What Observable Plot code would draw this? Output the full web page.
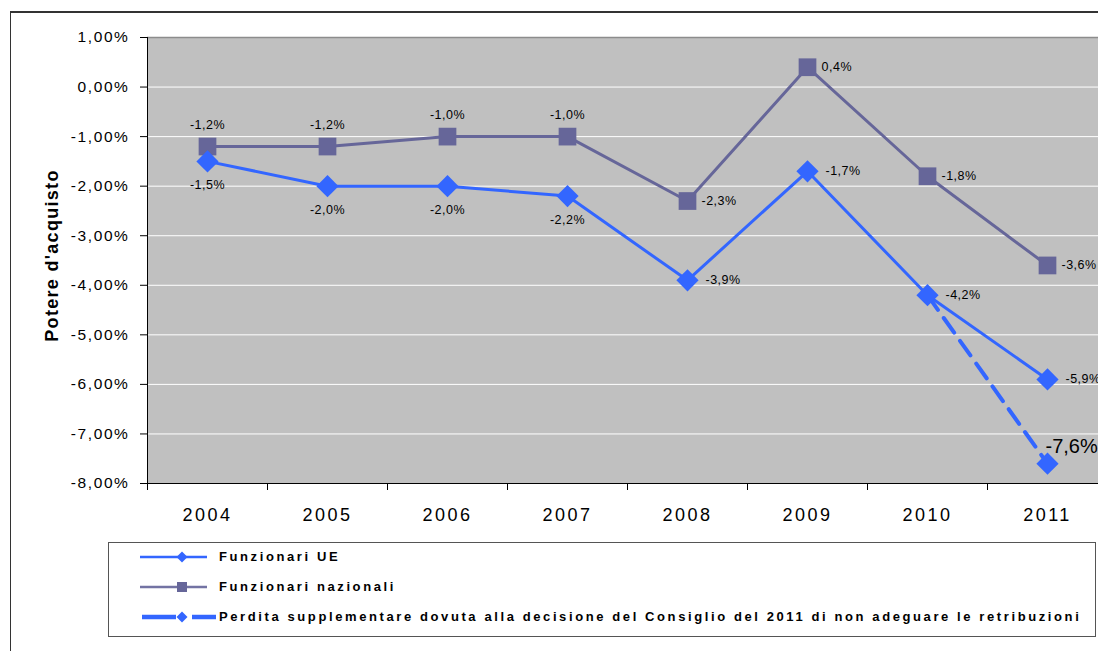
<!DOCTYPE html>
<html><head><meta charset="utf-8">
<script src="https://cdn.jsdelivr.net/npm/d3@7"></script>
<script src="https://cdn.jsdelivr.net/npm/@observablehq/plot@0.6"></script>
<style>
html,body{margin:0;padding:0;overflow:hidden;background:#fff;width:1098px;height:651px;}
#chart{position:absolute;left:0;top:0;}
#chart svg{max-width:none !important;}
g[aria-label="y-axis tick label"] text{letter-spacing:1.6px;}
g[aria-label="x-axis tick label"] text{letter-spacing:2.5px;}
.val text{letter-spacing:0.5px;}
.ytitle text{letter-spacing:1.3px;}
.frame-top{position:absolute;left:10px;top:11px;width:1100px;height:0;border-top:2px solid #333;}
.frame-left{position:absolute;left:10px;top:11px;width:0;height:700px;border-left:1px solid #333;}
#legend{position:absolute;left:108px;top:542px;width:986px;height:93px;border:1px solid #555;background:#fff;font-family:"Liberation Sans",Arial,sans-serif;font-weight:bold;font-size:13px;letter-spacing:2.6px;color:#000;}
.row{position:absolute;left:0;width:980px;height:16px;}
.row svg{position:absolute;left:31px;top:0;}
.row span{position:absolute;left:110px;top:0;line-height:16px;white-space:nowrap;}
</style></head>
<body>
<div class="frame-top"></div>
<div class="frame-left"></div>
<div id="chart"></div>
<div id="legend"></div>
<script>
const years = [2004, 2005, 2006, 2007, 2008, 2009, 2010, 2011];
const ueValues = [-1.5, -2.0, -2.0, -2.2, -3.9, -1.7, -4.2, -5.9];
const nazValues = [-1.2, -1.2, -1.0, -1.0, -2.3, 0.4, -1.8, -3.6];
const extraYears = [2010, 2011];
const extraValues = [-4.2, -7.6];
const yTicks = [1, 0, -1, -2, -3, -4, -5, -6, -7, -8];
const seriesNames = [
  "Funzionari UE",
  "Funzionari nazionali",
  "Perdita supplementare dovuta alla decisione del Consiglio del 2011 di non adeguare le retribuzioni"
];
const yTitle = "Potere d'acquisto";

const blue = "#3366ff", purple = "#666699";
const ue = years.map((year, i) => ({year, value: ueValues[i]}));
const naz = years.map((year, i) => ({year, value: nazValues[i]}));
const extra = extraYears.map((year, i) => ({year, value: extraValues[i]}));
const bounds = d3.range(years[0] - 0.5, years[years.length - 1] + 1, 1);
const fmtVal = v => v.toFixed(1).replace(".", ",") + "%";
const fmtTick = v => v.toFixed(2).replace(".", ",") + "%";
const early = d => d.year <= 2007;
const late = d => d.year > 2007;

const chart = Plot.plot({
  width: 1108,
  height: 540,
  marginLeft: 147,
  marginRight: 1,
  marginTop: 37,
  marginBottom: 57,
  style: {fontFamily: "'Liberation Sans', Arial, sans-serif", color: "#000", background: "transparent", overflow: "visible"},
  x: {domain: [bounds[0], bounds[bounds.length - 1]]},
  y: {domain: [-8, 1]},
  marks: [
    Plot.frame({fill: "#c0c0c0", stroke: null}),
    Plot.gridY(yTicks, {stroke: "#fff", strokeOpacity: 1, strokeWidth: 1}),
    Plot.ruleY([1], {stroke: "#8c8c8c", strokeWidth: 1.5}),
    Plot.ruleX([bounds[0]], {stroke: "#000", strokeWidth: 1}),
    Plot.ruleY([-8], {stroke: "#000", strokeWidth: 1}),
    Plot.axisY({ticks: yTicks, tickFormat: fmtTick, tickSize: 7, tickPadding: 11, fontSize: 15.5, label: null, stroke: "#000"}),
    Plot.axisX({ticks: years, tickFormat: d => String(d), tickSize: 0, tickPadding: 25, fontSize: 18, label: null}),
    Plot.axisX({ticks: bounds, tickFormat: () => "", tickSize: 7, label: null, stroke: "#000"}),
    Plot.line(naz, {x: "year", y: "value", stroke: purple, strokeWidth: 3}),
    Plot.line(ue, {x: "year", y: "value", stroke: blue, strokeWidth: 3}),
    Plot.line(extra, {x: "year", y: "value", stroke: blue, strokeWidth: 4, strokeDasharray: "18,10"}),
    Plot.dot(naz, {x: "year", y: "value", symbol: "square", r: 10, fill: purple}),
    Plot.dot(ue, {x: "year", y: "value", symbol: "diamond2", r: 10, fill: blue}),
    Plot.dot(extra.slice(1), {x: "year", y: "value", symbol: "diamond2", r: 10, fill: blue}),
    Plot.text(naz, {filter: early, x: "year", y: "value", text: d => fmtVal(d.value), dy: -22, fontSize: 12.5, fill: "#000", className: "val"}),
    Plot.text(naz, {filter: late, x: "year", y: "value", text: d => fmtVal(d.value), dx: 14, textAnchor: "start", fontSize: 12.5, fill: "#000", className: "val"}),
    Plot.text(ue, {filter: early, x: "year", y: "value", text: d => fmtVal(d.value), dy: 24, fontSize: 12.5, fill: "#000", className: "val"}),
    Plot.text(ue, {filter: late, x: "year", y: "value", text: d => fmtVal(d.value), dx: 18, textAnchor: "start", fontSize: 12.5, fill: "#000", className: "val"}),
    Plot.text(extra.slice(1), {x: "year", y: "value", text: d => fmtVal(d.value), dx: -2, dy: -17, textAnchor: "start", fontSize: 20, fill: "#000"}),
    Plot.text([yTitle], {frameAnchor: "left", textAnchor: "middle", dx: -95, dy: -5, rotate: -90, fontWeight: "bold", fontSize: 18, fill: "#000", className: "ytitle"})
  ]
});
document.getElementById("chart").appendChild(chart);

// Legend
const legend = document.getElementById("legend");
const rowsY = [6, 36, 66];
const swatches = [
  `<line x1="0" y1="8" x2="67" y2="8" stroke="${blue}" stroke-width="2.5"/><path d="M42,2.5L47.5,8L42,13.5L36.5,8Z" fill="${blue}"/>`,
  `<line x1="0" y1="8" x2="67" y2="8" stroke="#7373a3" stroke-width="2.5"/><rect x="37" y="3" width="10" height="10" fill="${purple}"/>`,
  `<line x1="2" y1="8" x2="36" y2="8" stroke="${blue}" stroke-width="4.5"/><line x1="52" y1="8" x2="76" y2="8" stroke="${blue}" stroke-width="4.5"/><path d="M42,2.5L47.5,8L42,13.5L36.5,8Z" fill="${blue}"/>`
];
seriesNames.forEach((name, i) => {
  const row = document.createElement("div");
  row.className = "row";
  row.style.top = rowsY[i] + "px";
  row.innerHTML = `<svg width="80" height="16">${swatches[i]}</svg><span>${name}</span>`;
  legend.appendChild(row);
});
</script>
</body></html>
